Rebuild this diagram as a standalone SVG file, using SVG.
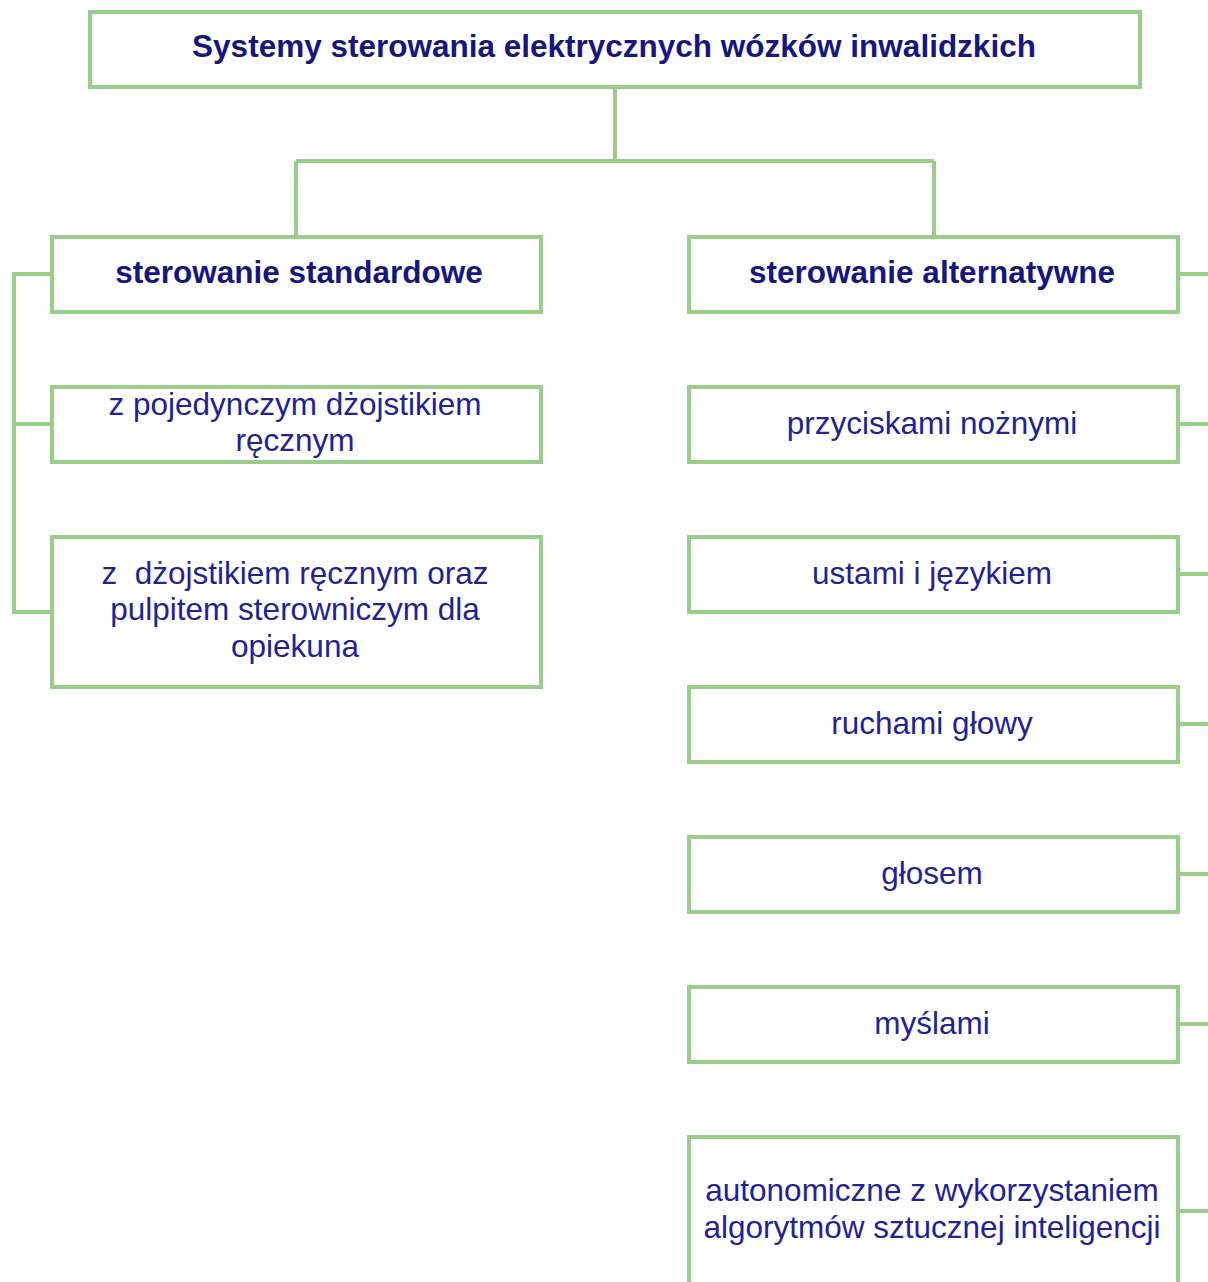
<svg xmlns="http://www.w3.org/2000/svg" width="1208" height="1282" viewBox="0 0 1208 1282">
<style>
.box{fill:#ffffff;stroke:#9acd8a;stroke-width:4}
.con{fill:none;stroke:#9acd8a;stroke-width:4}
.t{font-family:"Liberation Sans",Arial,sans-serif;font-size:31.5px;fill:#222294;text-anchor:middle}
.b{font-weight:bold;fill:#16167f}
</style>
<rect width="1208" height="1282" fill="#ffffff"/>
<g id="connectors">
<path class="con" d="M615 87V161M296 161H934M296 161V237M934 161V237"/>
<path class="con" d="M52 274H14V612H52M14 424H52"/>
<path class="con" d="M1178 274H1212M1178 424H1212M1178 574H1212M1178 724H1212M1178 874H1212M1178 1024H1212M1178 1211H1212"/>
</g>
<g id="n-root"><rect class="box" x="90" y="12" width="1050" height="75"/><text class="t b" x="614" y="57">Systemy sterowania elektrycznych wózków inwalidzkich</text></g>
<g id="n-standard"><rect class="box" x="52" y="237" width="489" height="75"/><text class="t b" x="299" y="283">sterowanie standardowe</text></g>
<g id="n-alternative"><rect class="box" x="689" y="237" width="489" height="75"/><text class="t b" x="932" y="283">sterowanie alternatywne</text></g>
<g id="n-s1"><rect class="box" x="52" y="387" width="489" height="75"/><text class="t" x="295" y="414.5">z pojedynczym dżojstikiem</text><text class="t" x="295" y="451">ręcznym</text></g>
<g id="n-s2"><rect class="box" x="52" y="537" width="489" height="150"/><text class="t" x="295" y="583.5" xml:space="preserve">z  dżojstikiem ręcznym oraz</text><text class="t" x="295" y="620">pulpitem sterowniczym dla</text><text class="t" x="295" y="657">opiekuna</text></g>
<g id="n-a1"><rect class="box" x="689" y="387" width="489" height="75"/><text class="t" x="932" y="434">przyciskami nożnymi</text></g>
<g id="n-a2"><rect class="box" x="689" y="537" width="489" height="75"/><text class="t" x="932" y="584">ustami i językiem</text></g>
<g id="n-a3"><rect class="box" x="689" y="687" width="489" height="75"/><text class="t" x="932" y="734">ruchami głowy</text></g>
<g id="n-a4"><rect class="box" x="689" y="837" width="489" height="75"/><text class="t" x="932" y="884">głosem</text></g>
<g id="n-a5"><rect class="box" x="689" y="987" width="489" height="75"/><text class="t" x="932" y="1034">myślami</text></g>
<g id="n-a6"><rect class="box" x="689" y="1137" width="489" height="150"/><text class="t" x="932" y="1201">autonomiczne z wykorzystaniem</text><text class="t" x="932" y="1238">algorytmów sztucznej inteligencji</text></g>
</svg>
